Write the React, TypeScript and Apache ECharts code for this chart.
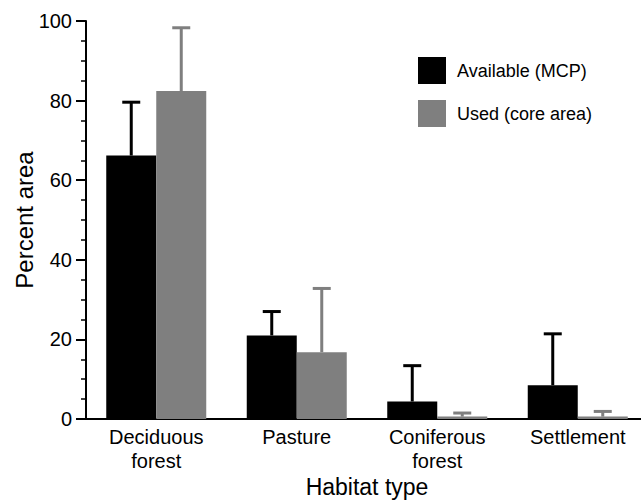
import React, { useEffect, useRef } from "react";
import * as echarts from "echarts";

const categories = ["Deciduous\nforest", "Pasture", "Coniferous\nforest", "Settlement"];
const availableMean = [66.2, 21.0, 4.4, 8.5];
const availableUpper = [79.6, 27.0, 13.4, 21.4];
const usedMean = [82.4, 16.8, 0.6, 0.6];
const usedUpper = [98.3, 32.8, 1.5, 1.9];
const seriesNames = ["Available (MCP)", "Used (core area)"];

const FONT = "'Liberation Sans', Arial, Helvetica, sans-serif";
const BLACK = "#000000";
const GRAY = "#7f7f7f";

function errorSeries(name: string, means: number[], uppers: number[], offset: number, color: string) {
  return {
    type: "custom",
    name: name + " err",
    z: 5,
    silent: true,
    encode: { x: 0, y: 1 },
    data: means.map((m, i) => [i, uppers[i], m]),
    renderItem: (_params: any, api: any) => {
      const idx = api.value(0);
      const top = api.value(1);
      const base = api.value(2);
      const pTop = api.coord([idx, top]);
      const pBase = api.coord([idx, base]);
      const x = pTop[0] + offset;
      return {
        type: "group",
        children: [
          {
            type: "line",
            shape: { x1: x, y1: pBase[1], x2: x, y2: pTop[1] },
            style: { stroke: color, lineWidth: 3 },
          },
          {
            type: "line",
            shape: { x1: x - 9, y1: pTop[1], x2: x + 9, y2: pTop[1] },
            style: { stroke: color, lineWidth: 3 },
          },
        ],
      };
    },
  };
}

export default function App() {
  const ref = useRef<HTMLDivElement>(null);
  useEffect(() => {
    if (!ref.current) return;
    const chart = echarts.init(ref.current, null, { renderer: "svg" });
    chart.setOption({
      animation: false,
      textStyle: { fontFamily: FONT, color: "#000" },
      grid: { left: 86, top: 21, width: 562, height: 398, outerBoundsMode: "none", containLabel: false },
      legend: {
        data: seriesNames,
        orient: "vertical",
        left: 418,
        top: 57,
        padding: 0,
        itemWidth: 28,
        itemHeight: 27,
        itemGap: 16,
        icon: "rect",
        textStyle: { fontSize: 18, color: "#000", fontFamily: FONT, padding: [0, 0, 0, 6] },
      },
      xAxis: {
        type: "category",
        data: categories,
        name: "Habitat type",
        nameLocation: "middle",
        nameGap: 56,
        nameMoveOverlap: false,
        nameTextStyle: { fontSize: 23, color: "#000", fontFamily: FONT },
        axisLine: { lineStyle: { color: "#000", width: 2 } },
        axisTick: { show: false },
        axisLabel: { interval: 0, fontSize: 20, lineHeight: 24, margin: 6, color: "#000", fontFamily: FONT },
        splitLine: { show: false },
      },
      yAxis: {
        type: "value",
        min: 0,
        max: 100,
        interval: 20,
        name: "Percent area",
        nameLocation: "middle",
        nameGap: 50,
        nameMoveOverlap: false,
        nameTextStyle: { fontSize: 24, color: "#000", fontFamily: FONT },
        axisLine: { show: true, lineStyle: { color: "#000", width: 2 } },
        axisTick: { show: true, length: 10, lineStyle: { color: "#000", width: 2 } },
        minorTick: { show: true, splitNumber: 4, length: 5, lineStyle: { color: "#000", width: 1.5 } },
        axisLabel: { fontSize: 20, margin: 14, color: "#000", fontFamily: FONT },
        splitLine: { show: false },
      },
      series: [
        {
          type: "bar",
          name: seriesNames[0],
          data: availableMean,
          barWidth: 50,
          barGap: "0%",
          itemStyle: { color: BLACK },
        },
        {
          type: "bar",
          name: seriesNames[1],
          data: usedMean,
          barWidth: 50,
          barGap: "0%",
          itemStyle: { color: GRAY },
        },
        errorSeries(seriesNames[0], availableMean, availableUpper, -25, BLACK),
        errorSeries(seriesNames[1], usedMean, usedUpper, 25, GRAY),
      ],
    });
    return () => chart.dispose();
  }, []);
  return (
    <div
      ref={ref}
      style={{ position: "fixed", left: 0, top: 0, width: 641, height: 502, background: "#fff" }}
    />
  );
}
